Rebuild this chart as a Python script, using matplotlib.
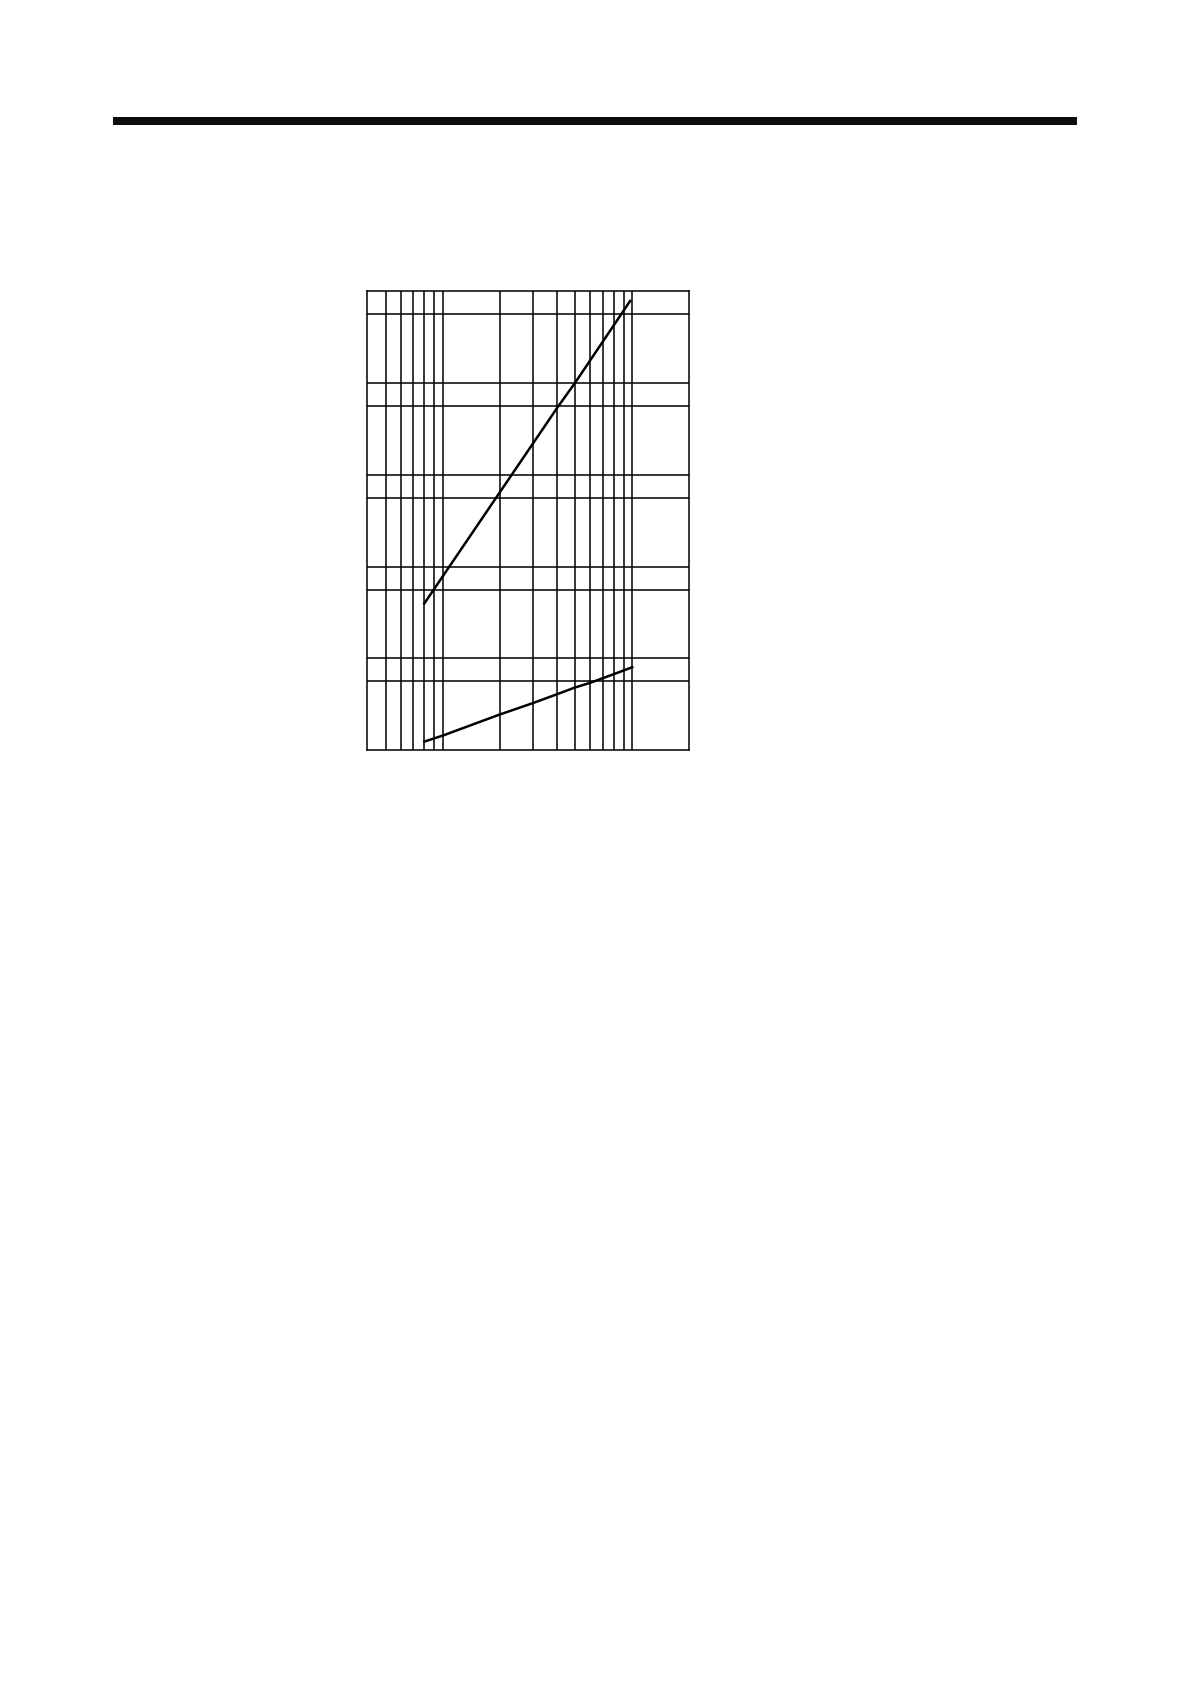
"""
Log-x grid chart with two characteristic lines, page-style header rule
"""
import matplotlib
matplotlib.use('Agg')
import matplotlib.pyplot as plt
from matplotlib.patches import Rectangle
import numpy as np

# x grid (log) and y grid (linear) positions
x_grid = [5, 6, 7, 8, 9, 10, 20, 30, 40, 50, 60, 70, 80, 90, 100]
y_grid = [15, 20, 35, 40, 55, 60, 75, 80, 95]

# upper curve
upper_x = [8, 20, 40, 50, 97.5]
upper_y = [32, 56.2, 74.5, 80.1, 97.9]

# lower curve
lower_x = [8, 10, 20, 30, 40, 50, 60, 80, 100]
lower_y = [1.9, 3.2, 7.8, 10.3, 12.2, 13.7, 14.7, 16.6, 18.1]

fig = plt.figure(figsize=(11.9, 16.84), dpi=100)
fig.patch.set_facecolor('white')

# thick header rule across the page
fig.add_artist(Rectangle((113 / 1190, 1 - 125 / 1684), 964 / 1190, 8 / 1684,
                         transform=fig.transFigure, facecolor='#0d0d0d',
                         edgecolor='none'))

ax = fig.add_axes([367.3 / 1190, 1 - 750.3 / 1684, 322 / 1190, 459 / 1684])
ax.set_xscale('log')
ax.set_xlim(4, 200)
ax.set_ylim(0, 100)

for gx in x_grid:
    ax.axvline(gx, color='black', lw=1.1, zorder=1)
for gy in y_grid:
    ax.axhline(gy, color='black', lw=1.1, zorder=1)

ax.plot(upper_x, upper_y, color='black', lw=1.8, zorder=3)
ax.plot(lower_x, lower_y, color='black', lw=1.8, zorder=3)

ax.set_xticks([])
ax.set_yticks([])
ax.minorticks_off()
ax.tick_params(which='both', length=0)
for s in ax.spines.values():
    s.set_linewidth(1.1)
    s.set_color('black')

fig.savefig('out.png', dpi=100, facecolor='white')
